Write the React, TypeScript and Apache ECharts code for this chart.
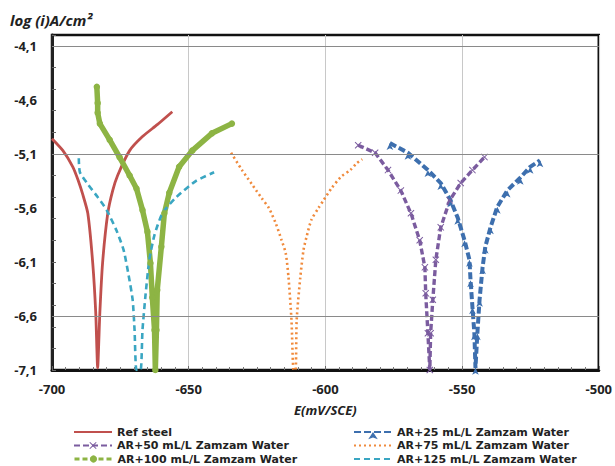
import React, { useEffect, useRef } from 'react';
import * as echarts from 'echarts';

const NAMES = [
  'Ref steel',
  'AR+25 mL/L Zamzam Water',
  'AR+50 mL/L Zamzam Water',
  'AR+75 mL/L Zamzam Water',
  'AR+100 mL/L Zamzam Water',
  'AR+125 mL/L Zamzam Water',
];

// Potential E (mV/SCE) and log(i) values per series
const refE = [-700, -696, -692.4, -690.5, -688.7, -686.9, -685.1, -684.0, -683.3, -682.5, -681.5, -679.6, -677.8, -676.0, -671.6, -666.9, -661.5, -656.0];
const refLog = [-4.96, -5.07, -5.22, -5.34, -5.48, -5.65, -6.11, -6.57, -7.08, -6.57, -6.11, -5.65, -5.44, -5.30, -5.07, -4.94, -4.83, -4.71];

const ar25E = [-576.4, -569.8, -562.5, -557.8, -554.2, -551.6, -549.1, -547.3, -546.9, -546.2, -545.5, -545.1, -544.4, -543.6, -542.5, -541.5, -539.6, -537.1, -533.5, -528.7, -525.1, -521.5];
const ar25Log = [-5.0, -5.09, -5.25, -5.37, -5.53, -5.69, -5.9, -6.08, -6.27, -6.52, -6.76, -7.08, -6.76, -6.45, -6.15, -5.96, -5.78, -5.59, -5.44, -5.32, -5.22, -5.16];

const ar50E = [-588.0, -581.8, -577.1, -572.4, -568.7, -565.5, -563.6, -563.3, -562.5, -561.8, -561.5, -560.7, -559.6, -557.8, -554.5, -550.5, -546.2, -541.8];
const ar50Log = [-5.02, -5.09, -5.25, -5.44, -5.65, -5.9, -6.15, -6.39, -6.76, -7.1, -6.76, -6.45, -6.08, -5.78, -5.53, -5.37, -5.25, -5.13];

const ar75E = [-634.5, -630.5, -626.9, -623.3, -620.7, -618.2, -616.0, -614.5, -613.5, -612.4, -611.6, -610.9, -610.5, -609.2, -608.0, -606.9, -605.1, -602.5, -600.7, -597.8, -594.2, -590.9, -588.7, -586.5];
const ar75Log = [-5.09, -5.25, -5.38, -5.51, -5.6, -5.74, -5.9, -6.02, -6.24, -6.64, -7.1, -7.1, -6.64, -6.25, -5.99, -5.87, -5.71, -5.6, -5.53, -5.42, -5.31, -5.25, -5.19, -5.15];

const ar100E = [-683.6, -683.3, -683.3, -682.5, -678.9, -675.3, -671.6, -669.1, -666.9, -665.1, -664.0, -663.3, -662.5, -662.2, -661.8, -661.5, -660.0, -658.9, -657.1, -653.5, -648.7, -641.5, -634.2];
const ar100Log = [-4.48, -4.63, -4.72, -4.82, -4.97, -5.13, -5.3, -5.42, -5.62, -5.82, -6.11, -6.43, -6.73, -7.1, -6.73, -6.36, -5.96, -5.65, -5.46, -5.22, -5.07, -4.91, -4.82];

const ar125E = [-690.2, -689.8, -686.9, -683.3, -680.0, -676.4, -673.8, -672.0, -670.5, -669.8, -669.1, -667.6, -666.9, -665.8, -664.4, -662.5, -659.6, -654.5, -647.3, -640.7];
const ar125Log = [-5.14, -5.27, -5.38, -5.5, -5.62, -5.81, -5.99, -6.22, -6.45, -6.73, -7.1, -7.1, -6.73, -6.41, -6.08, -5.85, -5.65, -5.5, -5.35, -5.27];

// Axis settings
const X_MIN = -700;
const X_MAX = -500;
const X_STEP = 50;
const Y_MIN = -7.1;
const Y_MAX = -4.0;
const Y_LABEL_STEP = 0.5;
const Y_TICK_STEP = 0.2;
const H_GRID = [-4.1, -5.1, -6.6];

const pairs = (xs: number[], ys: number[]) => xs.map((x, i) => [x, ys[i]]);

const FONT = 'Open Sans';
const LEGEND_FONT = 'DejaVu Sans';
const X_SYMBOL = 'path://M0,1L1,0L5,4L9,0L10,1L6,5L10,9L9,10L5,6L1,10L0,9L4,5Z';

export default function App() {
  const ref = useRef<HTMLDivElement>(null);
  useEffect(() => {
    document.body.style.margin = '0';
    const chart = echarts.init(ref.current!, undefined, { renderer: 'svg' });
    const colors = ['#c0504d', '#3d6fae', '#7b5c9f', '#f08a3c', '#8db444', '#3aa6c2'];
    const legendText = { fontFamily: LEGEND_FONT, fontSize: 11, fontWeight: 'bold', color: '#222', lineHeight: 13.5 };
    const rowTop = [425.25, 438.75, 452.25];
    const colLeft = [73, 353];
    const hideSym = [true, false, false, true, false, true];
    const legends = NAMES.map((n, i) => ({
      orient: 'horizontal', left: colLeft[i % 2], top: rowTop[Math.floor(i / 2)], padding: 0,
      itemWidth: 38, itemHeight: 9, itemGap: 4,
      textStyle: legendText,
      data: [
        Object.assign(
          { name: n },
          hideSym[i] ? { itemStyle: { opacity: 0 } } : {},
          i === 4 ? { lineStyle: { type: [5, 3], width: 3 } } : {},
        ),
      ],
    }));
    chart.setOption({
      animation: false,
      backgroundColor: '#fff',
      textStyle: { fontFamily: FONT },
      grid: { left: 52, right: 13, top: 35, bottom: 96, show: true, borderColor: '#111', borderWidth: 2.5, backgroundColor: 'transparent' },
      xAxis: {
        type: 'value', min: X_MIN, max: X_MAX, interval: X_STEP,
        name: 'E(mV/SCE)', nameLocation: 'middle', nameGap: 33,
        nameTextStyle: { fontFamily: FONT, fontSize: 13, fontWeight: 'bold', fontStyle: 'italic', color: '#222' },
        axisLine: { lineStyle: { color: '#111', width: 3 } },
        axisTick: { show: true, inside: true, length: 4, lineStyle: { color: '#666' } },
        minorTick: { show: true, splitNumber: 10, length: 3, lineStyle: { color: '#777' } },
        axisLabel: { fontFamily: FONT, fontSize: 13, fontWeight: 'bold', color: '#222', margin: 12 },
        splitLine: { show: true, lineStyle: { color: '#c8c8c8', width: 1 } },
      },
      yAxis: [
        {
          type: 'value', min: Y_MIN, max: Y_MAX, interval: Y_LABEL_STEP,
          axisLine: { show: true, lineStyle: { color: '#222', width: 3 } },
          axisTick: { show: false },
          splitLine: { show: false },
          axisLabel: {
            fontFamily: FONT, fontSize: 13, fontWeight: 'bold', color: '#222', margin: 15,
            showMaxLabel: false,
            formatter: (v: number) => (v > -4.05 ? '' : v.toFixed(1).replace('.', ',')),
          },
        },
        {
          type: 'value', min: Y_MIN, max: Y_MAX, interval: Y_TICK_STEP, position: 'left',
          axisLine: { show: false },
          axisTick: { show: true, inside: true, length: 4, lineStyle: { color: '#666' } },
          axisLabel: { show: false },
          splitLine: { show: false },
        },
      ],
      legend: legends,
      graphic: [
        {
          type: 'text', left: 10, top: 12,
          style: { text: 'log (i)A/cm²', fontFamily: FONT, fontSize: 15, fontWeight: 'bold', fontStyle: 'italic', fill: '#222' },
        },
      ],
      series: [
        {
          name: '__grid', type: 'line', data: [], z: 1, silent: true,
          markLine: {
            silent: true, symbol: 'none', label: { show: false },
            lineStyle: { color: '#8a8a8a', width: 1.2, type: 'solid' },
            data: H_GRID.map((v) => ({ yAxis: v })),
          },
        },
        {
          name: NAMES[0], type: 'line', data: pairs(refE, refLog), color: colors[0], z: 3,
          showSymbol: false, symbol: 'none', smooth: 0.2,
          lineStyle: { width: 2.8, color: colors[0] },
        },
        {
          name: NAMES[1], type: 'line', data: pairs(ar25E, ar25Log), color: colors[1], z: 3,
          symbol: 'arrow', symbolSize: [5, 7], showAllSymbol: true,
          lineStyle: { width: 4, type: [7, 3], color: colors[1] },
          itemStyle: { color: colors[1] },
        },
        {
          name: NAMES[2], type: 'line', data: pairs(ar50E, ar50Log), color: colors[2], z: 3,
          symbol: X_SYMBOL, symbolSize: 7, showAllSymbol: true,
          lineStyle: { width: 3.4, type: [6, 3], color: colors[2] },
          itemStyle: { color: colors[2] },
        },
        {
          name: NAMES[3], type: 'line', data: pairs(ar75E, ar75Log), color: colors[3], z: 3,
          showSymbol: false, symbol: 'none', smooth: 0.25,
          lineStyle: { width: 2.6, type: [2, 3], color: colors[3] },
        },
        {
          name: NAMES[4], type: 'line', data: pairs(ar100E, ar100Log), color: colors[4], z: 3,
          symbol: 'circle', symbolSize: 6.5, showAllSymbol: true,
          lineStyle: { width: 5.5, color: colors[4] },
          itemStyle: { color: colors[4] },
        },
        {
          name: NAMES[5], type: 'line', data: pairs(ar125E, ar125Log), color: colors[5], z: 3,
          showSymbol: false, symbol: 'none', smooth: 0.2,
          lineStyle: { width: 2.6, type: [6, 4], color: colors[5] },
        },
      ],
    });
    return () => chart.dispose();
  }, []);
  return <div ref={ref} style={{ width: 615, height: 466 }} />;
}
